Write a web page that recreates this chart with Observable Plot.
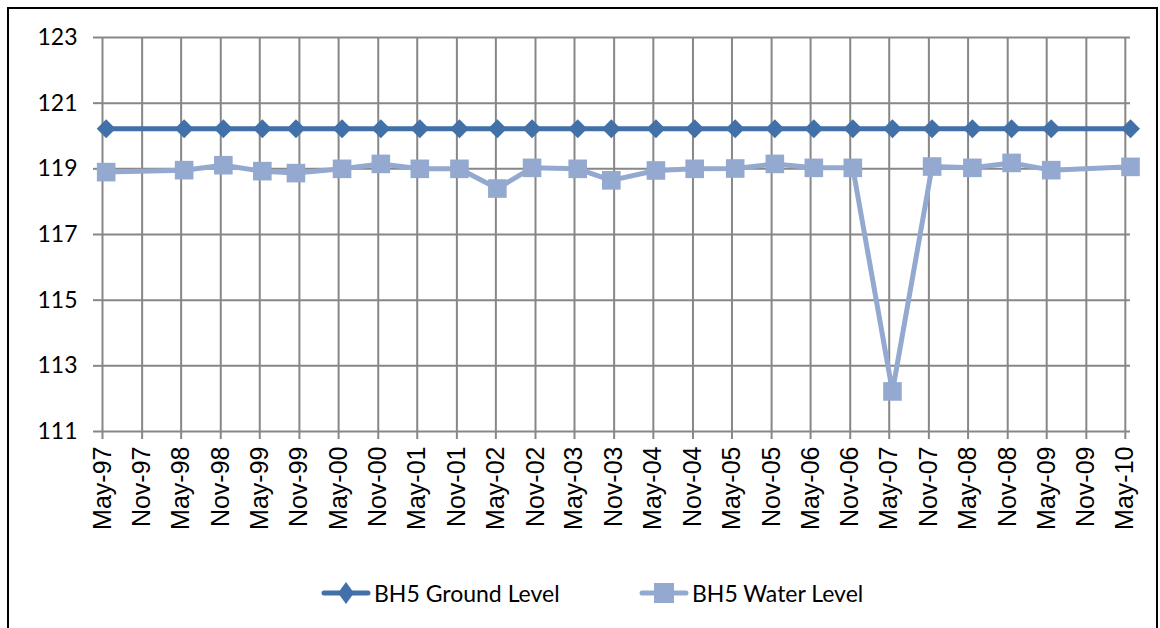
<!DOCTYPE html>
<html><head><meta charset="utf-8">
<script src="https://cdn.jsdelivr.net/npm/d3@7"></script>
<script src="https://cdn.jsdelivr.net/npm/@observablehq/plot@0.6"></script>
<style>
body{margin:0;background:#fff;width:1160px;height:628px;overflow:hidden;position:relative;font-family:Lato,sans-serif}
#frame{position:absolute;left:7px;top:7px;width:1151px;height:700px;border:2px solid #000;box-sizing:border-box}
#chart{position:absolute;left:0;top:0}
#legend{position:absolute;top:576px;left:0;width:1160px;height:34px}
.item{position:absolute;top:0;height:34px;display:flex;align-items:center;font-size:23px;color:#000;font-family:Lato,sans-serif}
.item svg{margin-right:3px}
</style></head><body>
<div id="frame"></div><div id="chart"></div><div id="legend"></div>
<script>
const tickLabels = ["May-97","Nov-97","May-98","Nov-98","May-99","Nov-99","May-00","Nov-00","May-01","Nov-01","May-02","Nov-02","May-03","Nov-03","May-04","Nov-04","May-05","Nov-05","May-06","Nov-06","May-07","Nov-07","May-08","Nov-08","May-09","Nov-09","May-10"];
const sampleDates = ["1997-05-18","1998-05-15","1998-11-13","1999-05-13","1999-10-16","2000-05-17","2000-11-13","2001-05-13","2001-11-13","2002-05-08","2002-10-16","2003-05-16","2003-10-19","2004-05-13","2004-11-09","2005-05-16","2005-11-16","2006-05-16","2006-11-13","2007-05-16","2007-11-16","2008-05-21","2008-11-19","2009-05-22","2010-05-25"];
const groundLevel = [120.22,120.22,120.22,120.22,120.22,120.22,120.22,120.22,120.22,120.22,120.22,120.22,120.22,120.22,120.22,120.22,120.22,120.22,120.22,120.22,120.22,120.22,120.22,120.22,120.22];
const waterLevel = [118.90,118.96,119.11,118.93,118.87,119.00,119.15,119.00,119.00,118.40,119.03,119.00,118.65,118.95,119.00,119.01,119.15,119.03,119.03,112.22,119.07,119.03,119.18,118.96,119.06];
const seriesNames = ["BH5 Ground Level","BH5 Water Level"];
const yTicks = [111,113,115,117,119,121,123];

const groundColor = "#4270A8";
const waterColor = "#94A9CF";
const gridColor = "#878787";

const parseTick = d3.utcParse("%b-%y");
const parseDate = d3.utcParse("%Y-%m-%d");
const xTicks = tickLabels.map(parseTick);
const dates = sampleDates.map(parseDate);
const ground = dates.map((d,i)=>({date:d, value:groundLevel[i]}));
const water = dates.map((d,i)=>({date:d, value:waterLevel[i]}));

const chart = Plot.plot({
  width:1160, height:560,
  marginLeft:102, marginRight:30, marginTop:37, marginBottom:129,
  style:{background:"transparent", overflow:"visible", fontFamily:"Lato, sans-serif"},
  x:{type:"utc", domain:[xTicks[0], dates[dates.length-1]]},
  y:{domain:[111,123]},
  marks:[
    Plot.ruleY(yTicks,{stroke:gridColor, strokeWidth:2}),
    Plot.ruleX(xTicks,{stroke:gridColor, strokeWidth:2}),
    Plot.axisY({ticks:yTicks, tickSize:9, tickPadding:16, tickFormat:d=>String(d), stroke:gridColor, strokeWidth:2, fill:"#000", fontSize:23, fontFamily:"Lato, sans-serif", label:null}),
    Plot.axisX({ticks:xTicks, tickFormat:d3.utcFormat("%b-%y"), tickRotate:-90, tickSize:8, tickPadding:7, stroke:gridColor, strokeWidth:2, fill:"#000", fontSize:25, fontFamily:"Liberation Sans, Arial, sans-serif", label:null}),
    Plot.line(water,{x:"date", y:"value", stroke:waterColor, strokeWidth:5}),
    Plot.dot(water,{x:"date", y:"value", symbol:"square", r:10.5, fill:waterColor, stroke:null}),
    Plot.line(ground,{x:"date", y:"value", stroke:groundColor, strokeWidth:5}),
    Plot.dot(ground,{x:"date", y:"value", symbol:"diamond2", r:8.5, fill:groundColor, stroke:null})
  ]
});
document.getElementById("chart").appendChild(chart);

// legend
const legend = document.getElementById("legend");
const items = [
  {name:seriesNames[0], color:groundColor, marker:"diamond", left:321},
  {name:seriesNames[1], color:waterColor, marker:"square", left:639}
];
for (const it of items) {
  const div = document.createElement("div");
  div.className = "item";
  div.style.left = it.left + "px";
  const m = it.marker === "diamond"
    ? `<path d="M25,6 L33,17 L25,28 L17,17 Z" fill="${it.color}"/>`
    : `<rect x="15" y="7" width="20" height="20" fill="${it.color}"/>`;
  div.innerHTML = `<svg width="50" height="34"><line x1="3" y1="17" x2="47" y2="17" stroke="${it.color}" stroke-width="5" stroke-linecap="round"/>${m}</svg><span>${it.name}</span>`;
  legend.appendChild(div);
}
</script>
</body></html>
